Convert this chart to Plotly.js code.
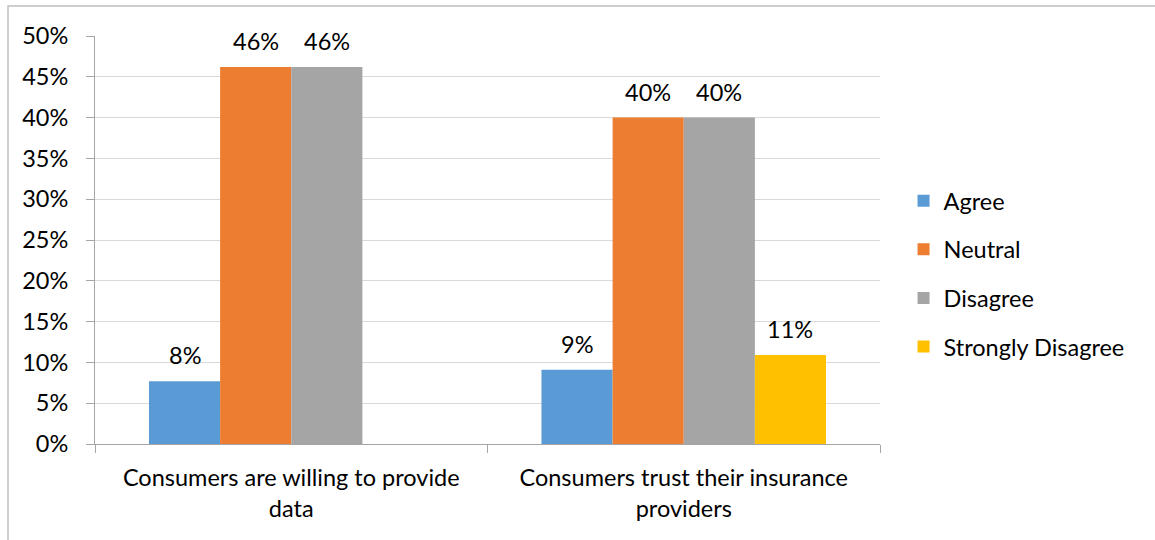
<!DOCTYPE html>
<html>
<head>
<meta charset="utf-8">
<script src="https://cdn.plot.ly/plotly-3.0.1.min.js"></script>
<style>html,body{margin:0;padding:0;background:#fff;}#chart{width:1155px;height:540px;}</style>
</head>
<body>
<div id="chart"></div>
<script>
const categories = ["Consumers are willing to provide<br>data", "Consumers trust their insurance<br>providers"];
const seriesNames = ["Agree", "Neutral", "Disagree", "Strongly Disagree"];
const agree = [0.077, 0.091];
const neutral = [0.462, 0.400];
const disagree = [0.462, 0.400];
const stronglyDisagree = [null, 0.109];
const colors = ["#5B9BD5", "#ED7D31", "#A5A5A5", "#FFC000"];
const yTicks = [0, 0.05, 0.10, 0.15, 0.20, 0.25, 0.30, 0.35, 0.40, 0.45, 0.50];

const seriesValues = [agree, neutral, disagree, stronglyDisagree];
const font = "Lato, 'Open Sans', sans-serif";
const fsize = 23.5;
const bargap = 0.275;

const traces = seriesValues.map((vals, i) => ({
  type: "bar",
  name: seriesNames[i],
  x: categories,
  y: vals,
  marker: {color: colors[i]},
  legendgroup: "g" + i,
  hoverinfo: "none"
}));

// data labels via annotations placed over each bar of the group
const nSeries = seriesValues.length;
const barW = (1 - bargap) / nSeries;
const annotations = [];
seriesValues.forEach((vals, i) => {
  vals.forEach((v, c) => {
    if (v == null) return;
    annotations.push({
      xref: "x", yref: "y",
      x: c - (1 - bargap) / 2 + barW * (i + 0.5),
      y: v,
      text: Math.round(v * 100) + "%",
      showarrow: false,
      yanchor: "middle", xanchor: "center",
      yshift: 26,
      font: {family: font, size: fsize, color: "#000"}
    });
  });
});

const layout = {
  width: 1155, height: 540,
  margin: {l: 95, r: 275, t: 36, b: 96},
  paper_bgcolor: "#fff", plot_bgcolor: "#fff",
  font: {family: font, size: fsize, color: "#000"},
  barmode: "group",
  bargap: bargap,
  bargroupgap: 0,
  showlegend: true,
  legend: {
    x: 1.03, xanchor: "left", y: (444 - 274) / 408, yanchor: "middle",
    font: {family: font, size: fsize, color: "#000"},
    tracegroupgap: 15,
    itemwidth: 30
  },
  xaxis: {
    type: "category",
    showline: true, linecolor: "#a6a6a6", linewidth: 1,
    ticks: "outside", tickson: "boundaries", ticklen: 8, tickcolor: "#a6a6a6",
    ticklabelstandoff: 13,
    showgrid: false,
    tickfont: {family: font, size: fsize, color: "#000"},
    fixedrange: true
  },
  yaxis: {
    range: [0, 0.5],
    tickvals: yTicks,
    tickformat: ".0%",
    showline: true, linecolor: "#a6a6a6", linewidth: 1,
    ticks: "outside", ticklen: 8, tickcolor: "#a6a6a6",
    ticklabelstandoff: 13,
    showgrid: true, gridcolor: "#d9d9d9", gridwidth: 1,
    zeroline: false,
    tickfont: {family: font, size: fsize, color: "#000"},
    fixedrange: true
  },
  annotations: annotations,
  shapes: [{
    type: "rect", xref: "paper", yref: "paper",
    x0: -87 / 785, x1: 1.6, y0: -0.5, y1: 1 + 30 / 408,
    line: {color: "#bfbfbf", width: 1.5}, fillcolor: "rgba(0,0,0,0)"
  }]
};

Plotly.newPlot("chart", traces, layout, {displayModeBar: false, staticPlot: true});
</script>
</body>
</html>
